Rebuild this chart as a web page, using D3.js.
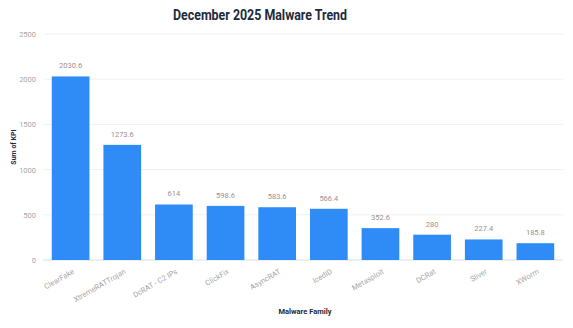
<!DOCTYPE html>
<html>
<head>
<meta charset="utf-8">
<script src="https://cdn.jsdelivr.net/npm/d3@7"></script>
<style>
  html, body { margin: 0; padding: 0; background: #fff; }
  svg { display: block; font-family: Inter, "Noto Sans", sans-serif; }
</style>
</head>
<body>
<svg id="chart" width="573" height="328"></svg>
<script>
// Malware families and their summed KPI for December 2025
const families = ["ClearFake", "XtremeRATTrojan", "DcRAT - C2 IPs", "ClickFix", "AsyncRAT",
                  "IcedID", "Metasploit", "DCRat", "Sliver", "XWorm"];
const kpiValues = [2030.6, 1273.6, 614, 598.6, 583.6, 566.4, 352.6, 280, 227.4, 185.8];
const yTicks = [0, 500, 1000, 1500, 2000, 2500];

const svg = d3.select("#chart");
const margin = { left: 43, right: 10, top: 34, bottom: 68 };
const W = 573, H = 328;

const x = d3.scaleBand()
  .domain(families)
  .range([margin.left, W - margin.right])
  .paddingInner(0.27)
  .paddingOuter(0.17);

const y = d3.scaleLinear()
  .domain([0, 2500])
  .range([H - margin.bottom, margin.top]);

// Title
svg.append("text")
  .attr("x", 260).attr("y", 20)
  .attr("text-anchor", "middle")
  .attr("font-size", 14).attr("font-weight", 700)
  .attr("font-family", "Roboto, sans-serif")
  .attr("textLength", 174).attr("lengthAdjust", "spacingAndGlyphs")
  .attr("fill", "#1e2a3b")
  .text("December 2025 Malware Trend");

// Horizontal gridlines
svg.append("g")
  .selectAll("line")
  .data(yTicks)
  .join("line")
  .attr("x1", margin.left).attr("x2", W - margin.right)
  .attr("y1", d => y(d)).attr("y2", d => y(d))
  .attr("stroke", d => d === 0 ? "#d6e0ee" : "#eef1f4")
  .attr("stroke-width", 1);

// Y axis tick labels
const yAxis = d3.axisLeft(y).tickValues(yTicks).tickFormat(d3.format("d")).tickSize(0).tickPadding(7);
svg.append("g")
  .attr("transform", `translate(${margin.left},0)`)
  .call(yAxis)
  .call(g => g.select(".domain").remove())
  .call(g => g.selectAll("text")
    .attr("font-size", 7.5).attr("fill", "#a6a6a6")
    .attr("font-family", "Roboto, sans-serif"));

// Bars
svg.append("g")
  .selectAll("rect")
  .data(kpiValues)
  .join("rect")
  .attr("x", (d, i) => x(families[i]))
  .attr("width", x.bandwidth())
  .attr("y", d => y(d))
  .attr("height", d => y(0) - y(d))
  .attr("fill", "#2f8cf6");

// Value labels above bars
svg.append("g")
  .selectAll("text")
  .data(kpiValues)
  .join("text")
  .attr("x", (d, i) => x(families[i]) + x.bandwidth() / 2)
  .attr("y", d => y(d) - 8)
  .attr("text-anchor", "middle")
  .attr("font-size", 7.5)
  .attr("font-family", "Roboto, sans-serif")
  .attr("fill", "#a08f8f")
  .text(d => d);

// X axis category labels, rotated
const xAxis = d3.axisBottom(x).tickSize(0).tickPadding(0);
svg.append("g")
  .attr("transform", `translate(0,${y(0)})`)
  .call(xAxis)
  .call(g => g.select(".domain").remove())
  .call(g => g.selectAll("text")
    .attr("font-size", 7.5).attr("fill", "#a6a6a6")
    .attr("font-family", "Roboto, sans-serif")
    .attr("text-anchor", "end")
    .attr("dy", "0")
    .attr("transform", "translate(4,13) rotate(-30)"));

// Axis titles
svg.append("text")
  .attr("x", 305).attr("y", 314)
  .attr("text-anchor", "middle")
  .attr("font-size", 7.5).attr("font-weight", 700)
  .attr("font-family", "Roboto, sans-serif")
  .attr("fill", "#1e2a3b")
  .text("Malware Family");

svg.append("text")
  .attr("transform", "translate(16,147) rotate(-90)")
  .attr("text-anchor", "middle")
  .attr("font-size", 7).attr("font-weight", 700)
  .attr("font-family", "Roboto, sans-serif")
  .attr("fill", "#1e2a3b")
  .text("Sum of KPI");
</script>
</body>
</html>
